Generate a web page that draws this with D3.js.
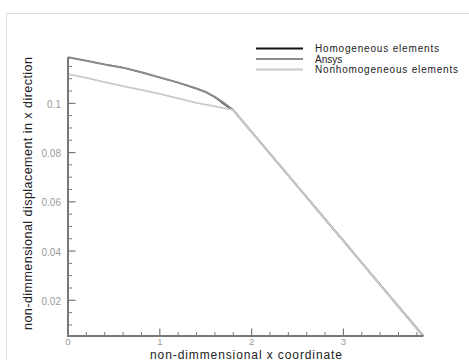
<!DOCTYPE html>
<html><head><meta charset="utf-8">
<script src="https://cdn.jsdelivr.net/npm/d3@7/dist/d3.min.js"></script>
<style>body{margin:0;background:#fff}svg{display:block}text{font-family:"Liberation Sans",Arial,sans-serif}</style>
</head><body><svg id="c" width="469" height="360"></svg>
<script>
const seriesNames = ["Homogeneous elements", "Ansys", "Nonhomogeneous elements"];
const homX = [0, 0.2, 0.4, 0.6, 0.8, 1.0, 1.2, 1.4, 1.5, 1.6, 1.7, 1.75, 1.8, 2.0, 2.5, 3.0, 3.5, 3.87];
const homY = [0.1187, 0.1173, 0.1158, 0.1145, 0.1126, 0.1105, 0.1084, 0.1060, 0.1046, 0.1025, 0.0996, 0.0983, 0.0973, 0.0884, 0.0663, 0.0441, 0.0219, 0.0055];
const ansX = [0, 0.2, 0.4, 0.6, 0.8, 1.0, 1.2, 1.4, 1.5, 1.6, 1.7, 1.8, 2.0, 2.5, 3.0, 3.5, 3.87];
const ansY = [0.1187, 0.1173, 0.1158, 0.1145, 0.1126, 0.1105, 0.1084, 0.1060, 0.1046, 0.1026, 0.1001, 0.0973, 0.0884, 0.0663, 0.0441, 0.0219, 0.0055];
const nonX = [0, 0.2, 0.4, 0.6, 0.8, 1.0, 1.2, 1.4, 1.6, 1.8, 2.0, 2.5, 3.0, 3.5, 3.87];
const nonY = [0.1119, 0.1103, 0.1086, 0.1070, 0.1055, 0.1038, 0.1020, 0.1002, 0.0988, 0.0973, 0.0884, 0.0663, 0.0441, 0.0219, 0.0055];
const xTicks = [0, 1, 2, 3];
const yTicks = [0.02, 0.04, 0.06, 0.08, 0.1];
const xDomain = [0, 3.87];
const yDomain = [0.0055, 0.1187];

const svg = d3.select("#c");
const L = 68, R = 423.3, T = 57.3, B = 336;
const x = d3.scaleLinear().domain(xDomain).range([L, R]);
const y = d3.scaleLinear().domain(yDomain).range([B, T]);

// outer frame
svg.append("path").attr("d", "M6.5,360V13.5H469").attr("fill", "none").attr("stroke", "#dcdcdc").attr("stroke-width", 1);

const axisCol = "#777";
const xMinor = d3.range(0, 3.87, 0.2).filter(v => Math.abs(v - Math.round(v)) > 1e-6);
const yMinor = d3.range(0.01, 0.12, 0.005).filter(v => v >= yDomain[0] && v <= yDomain[1] && !yTicks.some(t => Math.abs(t - v) < 1e-6));
const g = svg.append("g");
xMinor.forEach(v => g.append("line").attr("x1", x(v)).attr("x2", x(v)).attr("y1", B).attr("y2", B - 4).attr("stroke", axisCol).attr("stroke-width", 1));
xTicks.forEach(v => g.append("line").attr("x1", x(v)).attr("x2", x(v)).attr("y1", B).attr("y2", B - 7.5).attr("stroke", axisCol).attr("stroke-width", 1.2));
yMinor.forEach(v => g.append("line").attr("x1", L).attr("x2", L + 4).attr("y1", y(v)).attr("y2", y(v)).attr("stroke", axisCol).attr("stroke-width", 1));
yTicks.forEach(v => g.append("line").attr("x1", L).attr("x2", L + 7.5).attr("y1", y(v)).attr("y2", y(v)).attr("stroke", axisCol).attr("stroke-width", 1.2));

// tick labels
xTicks.forEach(v => g.append("text").attr("x", x(v)).attr("y", B + 9).attr("text-anchor", "middle").attr("font-size", 9.5).attr("fill", "#9a9a9a").text(v));
yTicks.forEach(v => g.append("text").attr("x", L - 7).attr("y", y(v) + 4.5).attr("text-anchor", "end").attr("font-size", 10).attr("fill", "#9a9a9a").text(v));

// lines
const line = d3.line().x(d => x(d[0])).y(d => y(d[1]));
const series = [
  {xs: homX, ys: homY, col: "#111", w: 1.2},
  {xs: ansX, ys: ansY, col: "#8c8c8c", w: 2},
  {xs: nonX, ys: nonY, col: "#cacaca", w: 1.8}
];
series.forEach(s => svg.append("path").attr("d", line(s.xs.map((v, i) => [v, s.ys[i]]))).attr("fill", "none").attr("stroke", s.col).attr("stroke-width", s.w));

// axes lines
svg.append("path").attr("d", `M${L},${T}V${B}H${R}`).attr("fill", "none").attr("stroke", axisCol).attr("stroke-width", 2);

// legend
const legY = [48.5, 59, 69.5];
const legW = [124, null, 143];
series.forEach((s, i) => {
  svg.append("line").attr("x1", 256).attr("x2", 303).attr("y1", legY[i]).attr("y2", legY[i]).attr("stroke", s.col).attr("stroke-width", s.w === 1.2 ? 1.8 : s.w);
  const t = svg.append("text").attr("x", 315).attr("y", legY[i] + 3.6).attr("font-size", 10).attr("fill", "#222").text(seriesNames[i]);
  if (legW[i]) t.attr("textLength", legW[i]);
});

// axis titles
svg.append("text").attr("x", 246).attr("y", 358.5).attr("text-anchor", "middle").attr("font-size", 12).attr("textLength", 192).attr("fill", "#222").text("non-dimmensional x coordinate");
svg.append("text").attr("transform", "translate(31.5,193.5) rotate(-90)").attr("text-anchor", "middle").attr("font-size", 12.5).attr("textLength", 273).attr("fill", "#222").text("non-dimmensional displacement in x direction");
</script></body></html>
